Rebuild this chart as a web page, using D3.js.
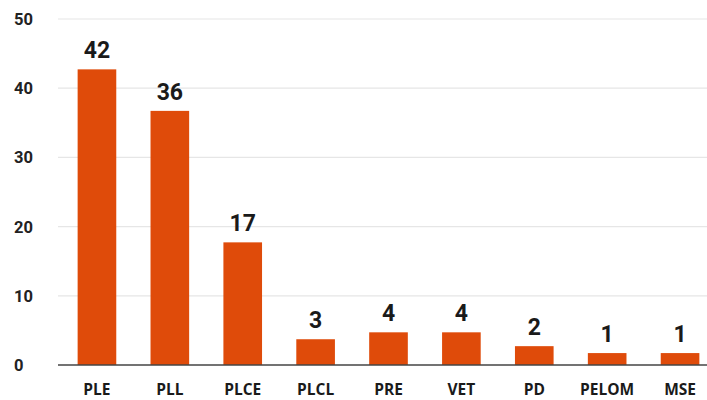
<!DOCTYPE html>
<html>
<head>
<meta charset="utf-8">
<script src="https://cdn.jsdelivr.net/npm/d3@7/dist/d3.min.js"></script>
<style>
  html, body { margin: 0; padding: 0; background: #ffffff; }
  svg { display: block; }
</style>
</head>
<body>
<div id="chart"></div>
<script>
const categories = ["PLE", "PLL", "PLCE", "PLCL", "PRE", "VET", "PD", "PELOM", "MSE"];
const values = [42, 36, 17, 3, 4, 4, 2, 1, 1];
const yTicks = [0, 10, 20, 30, 40, 50];

const W = 707, H = 400;
const svg = d3.select("#chart").append("svg").attr("width", W).attr("height", H);

const y = d3.scaleLinear().domain([0, 50]).range([365, 19]);
const x = d3.scaleBand().domain(categories).range([60.5, 716.5])
  .paddingInner(0.47).paddingOuter(0.235);

const gridX0 = 58, gridX1 = 707;
const font = "Roboto, 'Open Sans', 'DejaVu Sans', sans-serif";
const catFont = "'Open Sans', Roboto, 'DejaVu Sans', sans-serif";
const lift = 5;

// gridlines
svg.append("g").selectAll("line").data(yTicks.filter(d => d > 0)).join("line")
  .attr("x1", gridX0).attr("x2", gridX1)
  .attr("y1", d => y(d)).attr("y2", d => y(d))
  .attr("stroke", "#e6e6e6").attr("stroke-width", 1.2);

// y tick labels
svg.append("g").selectAll("text").data(yTicks).join("text")
  .attr("x", 14).attr("y", d => y(d) + 6)
  .attr("font-family", font).attr("font-size", 16.5).attr("font-weight", 700)
  .attr("fill", "#222").text(d => d);

// bars
svg.append("g").selectAll("rect").data(values).join("rect")
  .attr("x", (d, i) => x(categories[i]))
  .attr("width", x.bandwidth())
  .attr("y", d => y(d) - lift)
  .attr("height", d => y(0) - y(d) + lift)
  .attr("fill", "#df4b0a");

// value labels
svg.append("g").selectAll("text").data(values).join("text")
  .attr("x", (d, i) => x(categories[i]) + x.bandwidth() / 2)
  .attr("y", d => y(d) - lift - 11)
  .attr("text-anchor", "middle")
  .attr("font-family", font).attr("font-size", 23).attr("font-weight", 700)
  .attr("fill", "#1a1a1a").text(d => d);

// baseline
svg.append("line")
  .attr("x1", gridX0).attr("x2", gridX1)
  .attr("y1", y(0)).attr("y2", y(0))
  .attr("stroke", "#444").attr("stroke-width", 1.5);

// category labels
svg.append("g").selectAll("text").data(categories).join("text")
  .attr("x", d => x(d) + x.bandwidth() / 2)
  .attr("y", 395)
  .attr("text-anchor", "middle")
  .attr("font-family", catFont).attr("font-size", 15.5).attr("font-weight", 700)
  .attr("fill", "#1a1a1a").text(d => d);
</script>
</body>
</html>
